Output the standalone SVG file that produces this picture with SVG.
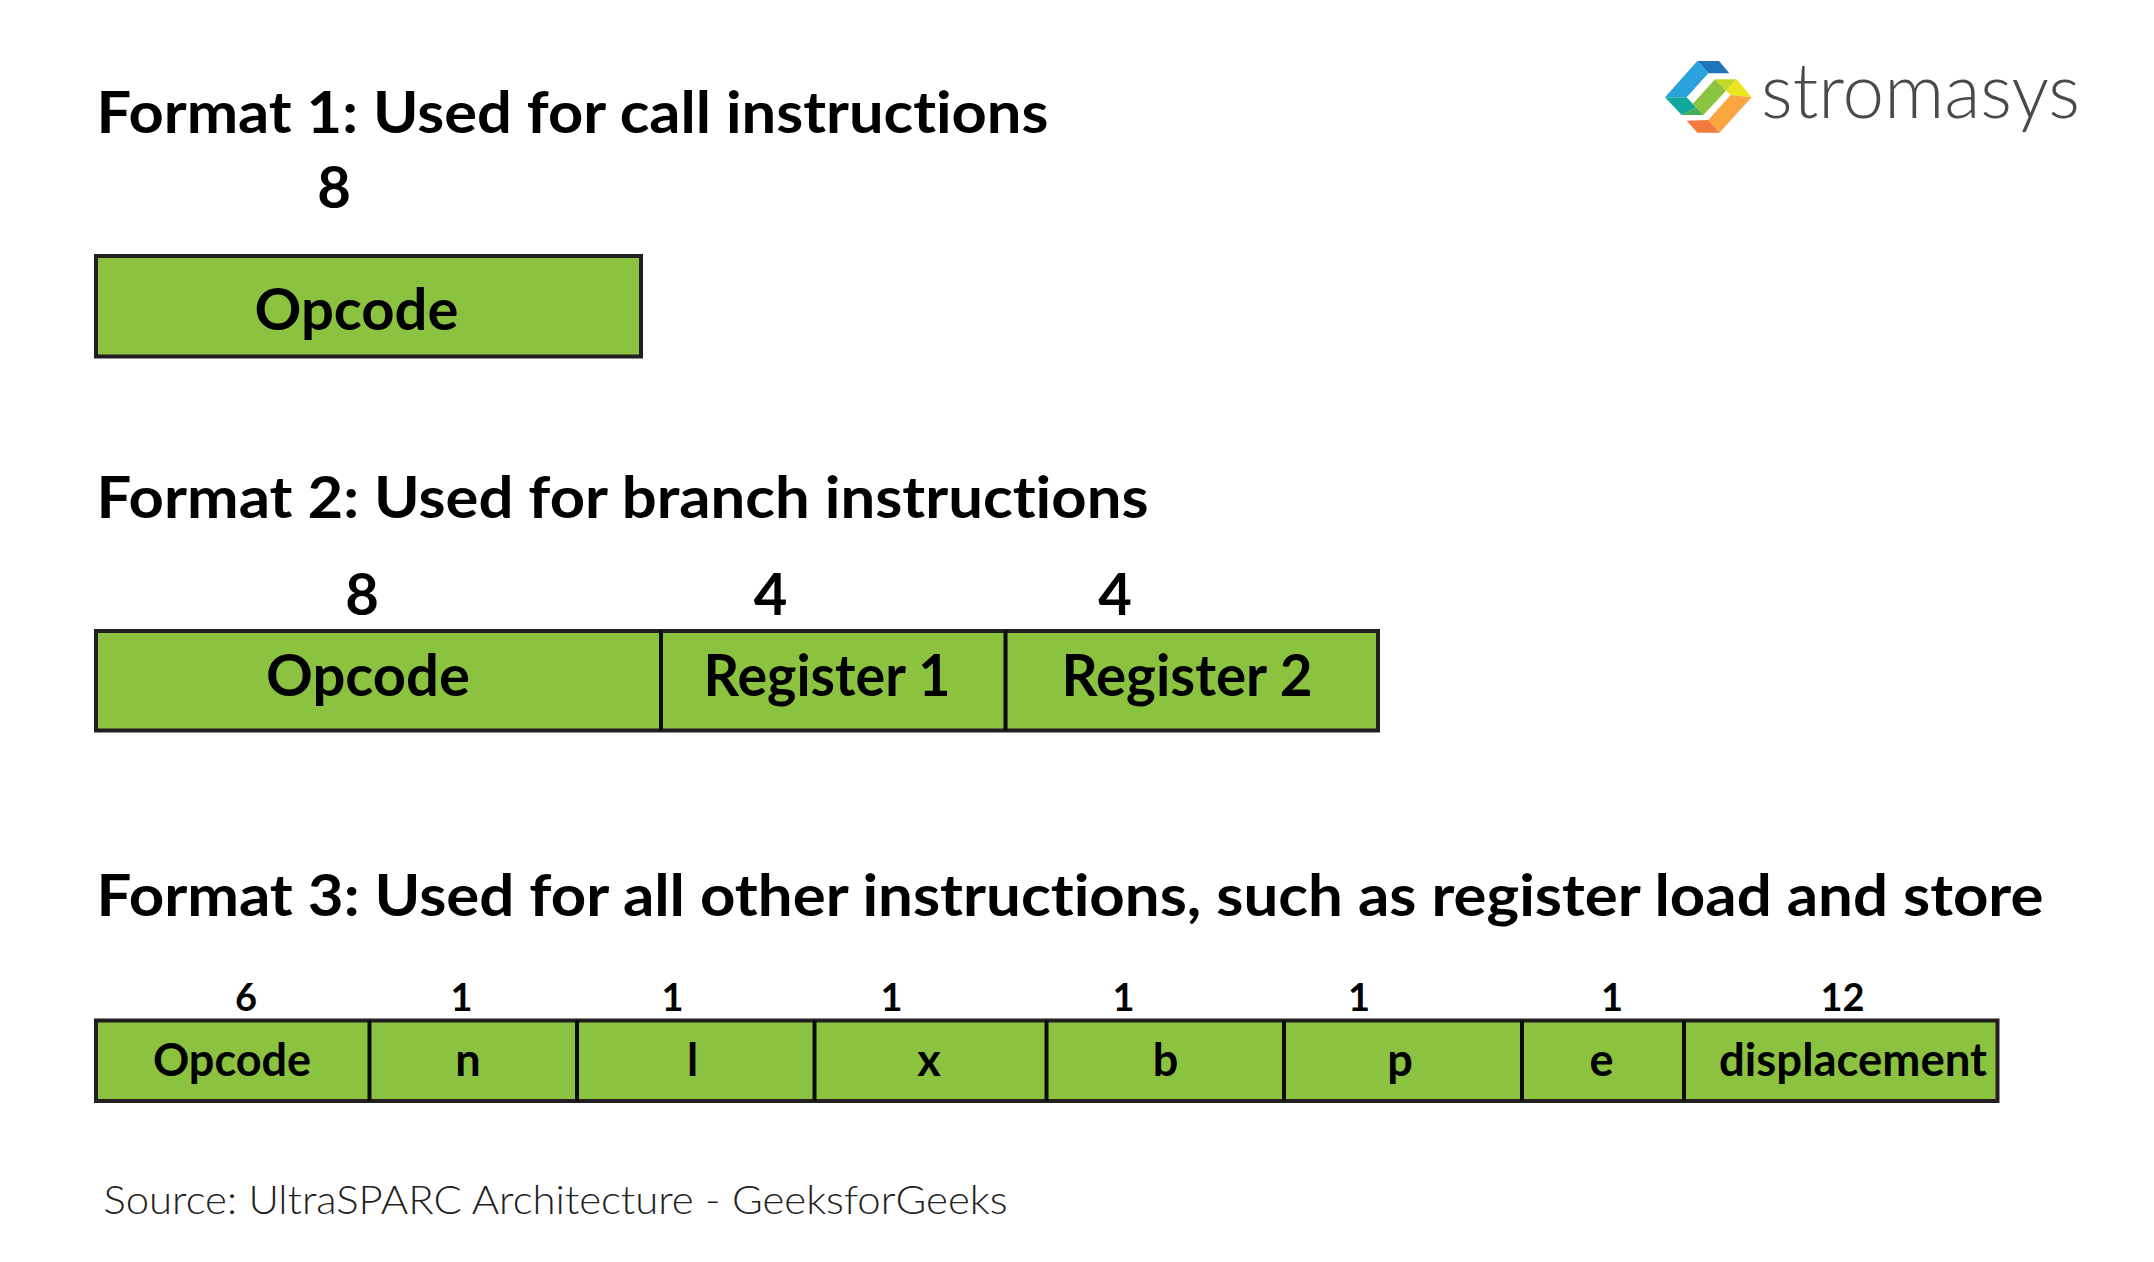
<svg xmlns="http://www.w3.org/2000/svg" width="2154" height="1262" viewBox="0 0 2154 1262">
<style>
text{font-family:Lato,"Open Sans","Liberation Sans",sans-serif;fill:#000;font-weight:700;font-variant-ligatures:none}
.t{font-size:58px}
.l{font-size:58px;text-anchor:middle}
.s{font-size:45px;text-anchor:middle}
.n{font-size:38px;text-anchor:middle}
.src{font-size:40px;font-weight:300;fill:#222}
.logo{font-size:76px;font-weight:300;fill:#4a4a4a}
.b{fill:#8bc240;stroke:#231f20;stroke-width:4}
.d{stroke:#0a0a0a;stroke-width:4;fill:none}
</style>
<rect width="2154" height="1262" fill="#fff"/>
<g id="logo">
<g transform="translate(1665,61) scale(.3333) translate(-75,-93)">
<polygon fill="#1f75bb" points="172,93 237,93 268,130 205,130"/>
<polygon fill="#2aa3dc" points="172,93 205,130 140,202 75,202"/>
<polygon fill="#12a89d" points="75,202 140,202 168,232 125,255"/>
<polygon fill="#3fae5a" points="125,255 168,232 190,255"/>
<polygon fill="#8bc53f" points="225,148 258,182 190,255 168,232 158,222"/>
<polygon fill="#c5d92d" points="225,148 290,148 258,182"/>
<polygon fill="#ece51e" points="290,148 335,202 272,195 258,182"/>
<polygon fill="#f9a540" points="335,202 238,308 205,270 272,195"/>
<polygon fill="#f37a3c" points="140,272 205,270 238,308 172,308"/>
</g>
<text class="logo" x="1761" y="118" textLength="319" lengthAdjust="spacingAndGlyphs">stromasys</text>
</g>
<g id="format1">
<text class="t" x="96.500" y="132.500" textLength="952" lengthAdjust="spacingAndGlyphs">Format 1: Used for call instructions</text>
<text class="l" x="334" y="207.500">8</text>
<rect class="b" x="96" y="256" width="545" height="100.500"/>
<text class="l" x="356.500" y="330">Opcode</text>
</g>
<g id="format2">
<text class="t" x="96.500" y="517.500" textLength="1052" lengthAdjust="spacingAndGlyphs">Format 2: Used for branch instructions</text>
<text class="l" x="362" y="614.500">8</text>
<text class="l" x="770.500" y="614.500">4</text>
<text class="l" x="1115" y="614.500">4</text>
<rect class="b" x="96" y="631" width="1282" height="99.500"/>
<path class="d" d="M661 631V730.500M1005.500 631V730.500"/>
<text class="l" x="368" y="695.500">Opcode</text>
<text class="l" x="827" y="695.500" textLength="247" lengthAdjust="spacingAndGlyphs">Register 1</text>
<text class="l" x="1187" y="695.500" textLength="251" lengthAdjust="spacingAndGlyphs">Register 2</text>
</g>
<g id="format3">
<text class="t" x="96.500" y="915.500" textLength="1947" lengthAdjust="spacingAndGlyphs">Format 3: Used for all other instructions, such as register load and store</text>
<text class="n" x="246" y="1011">6</text>
<text class="n" x="461.500" y="1011">1</text>
<text class="n" x="672.500" y="1011">1</text>
<text class="n" x="891.500" y="1011">1</text>
<text class="n" x="1123.500" y="1011">1</text>
<text class="n" x="1359" y="1011">1</text>
<text class="n" x="1612" y="1011">1</text>
<text class="n" x="1842.500" y="1011">12</text>
<rect class="b" x="96" y="1020.500" width="1901.500" height="80.500"/>
<path class="d" d="M369.500 1020.500V1101M577 1020.500V1101M814.500 1020.500V1101M1046.500 1020.500V1101M1284 1020.500V1101M1522 1020.500V1101M1684 1020.500V1101"/>
<text class="s" x="232" y="1076">Opcode</text>
<text class="s" x="468" y="1076">n</text>
<text class="s" x="692.500" y="1076">l</text>
<text class="s" x="929" y="1076">x</text>
<text class="s" x="1165.500" y="1076">b</text>
<text class="s" x="1400" y="1076">p</text>
<text class="s" x="1601.500" y="1076">e</text>
<text class="s" x="1853" y="1076" textLength="268" lengthAdjust="spacingAndGlyphs">displacement</text>
</g>
<text class="src" id="source" x="103.500" y="1214" textLength="904" lengthAdjust="spacingAndGlyphs">Source: UltraSPARC Architecture - GeeksforGeeks</text>
</svg>
